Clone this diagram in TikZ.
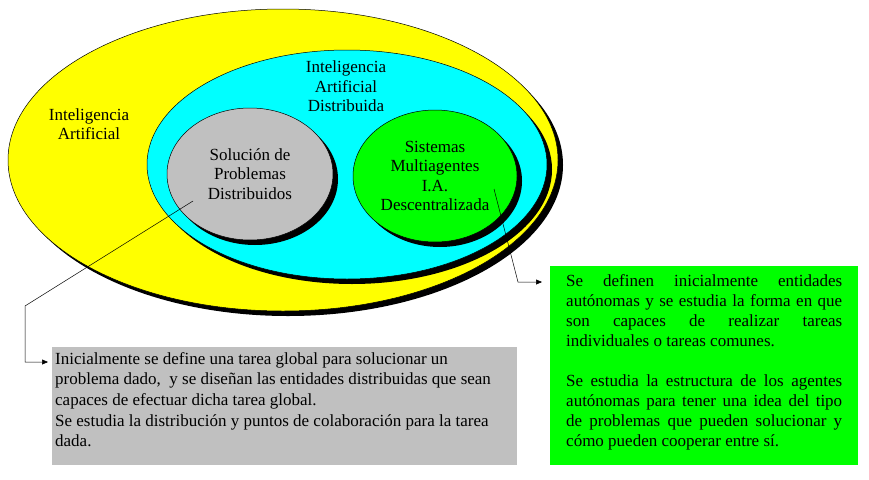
\documentclass[tikz,border=0pt]{standalone}
\usepackage{fontspec}
\setmainfont{Liberation Serif}
\usetikzlibrary{shapes.geometric,shadows,arrows.meta}
\definecolor{aiyellow}{RGB}{255,255,0}
\definecolor{daicyan}{RGB}{0,255,255}
\definecolor{dpsgray}{RGB}{192,192,192}
\definecolor{masgreen}{RGB}{0,255,0}
\tikzset{
  blob/.style={ellipse,draw=black,line width=0.5pt,inner sep=0pt,
    drop shadow={shadow xshift=5pt,shadow yshift=-5pt,opacity=1,fill=black}},
  txt/.style={font=\fontsize{17}{19.6}\selectfont,align=center},
  notebox/.style={anchor=north west,inner ysep=5pt,font=\fontsize{17}{20.7}\selectfont},
  link/.style={-{Triangle[length=6pt,width=5pt]},line width=0.5pt}
}
\begin{document}
\begin{tikzpicture}[x=1pt,y=-1pt]
\useasboundingbox (0,0) rectangle (869,479);
\node[blob,fill=aiyellow,minimum width=550pt,minimum height=302pt] (ai) at (283,160) {};
\node[txt] (aiText) at (89,124) {Inteligencia\\Artificial};
\node[blob,fill=daicyan,minimum width=400pt,minimum height=229pt] (dai) at (347,164.5) {};
\node[txt] (daiText) at (346,86.5) {Inteligencia\\Artificial\\Distribuida};
\node[blob,txt,fill=dpsgray,minimum width=166pt,minimum height=132pt] (dps) at (250,174) {Solución de\\Problemas\\Distribuidos};
\node[blob,txt,fill=masgreen,minimum width=164pt,minimum height=132pt] (mas) at (435,176) {Sistemas\\Multiagentes\\I.A.\\Descentralizada};
\node[notebox,fill=dpsgray,inner xsep=3pt] (dpsNote) at (52,347) {\parbox[c][108pt][t]{459pt}{\raggedright
  Inicialmente se define una tarea global para solucionar un\\
  problema dado,\ \ y se diseñan las entidades distribuidas que sean\\
  capaces de efectuar dicha tarea global.\\
  Se estudia la distribución y puntos de colaboración para la tarea\\
  dada.}};
\node[notebox,fill=masgreen,inner xsep=16pt,inner ysep=8pt,font=\fontsize{17}{20}\selectfont] (masNote) at (550,266) {\parbox[c][183pt][t]{276pt}{\hyphenpenalty=10000 \tolerance=10000
  Se definen inicialmente entidades\linebreak
  autónomas y se estudia la forma en que\linebreak
  son capaces de realizar tareas\linebreak
  individuales o tareas comunes.\par\vspace{20pt}
  Se estudia la estructura de los agentes\linebreak
  autónomas para tener una idea del tipo\linebreak
  de problemas que pueden solucionar y\linebreak
  cómo pueden cooperar entre sí.}};
\coordinate (dpsTail) at (193,201);
\coordinate (dpsBend) at (25,306);
\draw[link] (dpsTail) -- (dpsBend) |- ([xshift=-4pt,yshift=-15pt]dpsNote.north west);
\coordinate (masTail) at (494,189);
\coordinate (masBend) at (518,282);
\draw[link] (masTail) -- (masBend) |- ([xshift=-8pt,yshift=-16pt]masNote.north west);
\end{tikzpicture}
\end{document}
